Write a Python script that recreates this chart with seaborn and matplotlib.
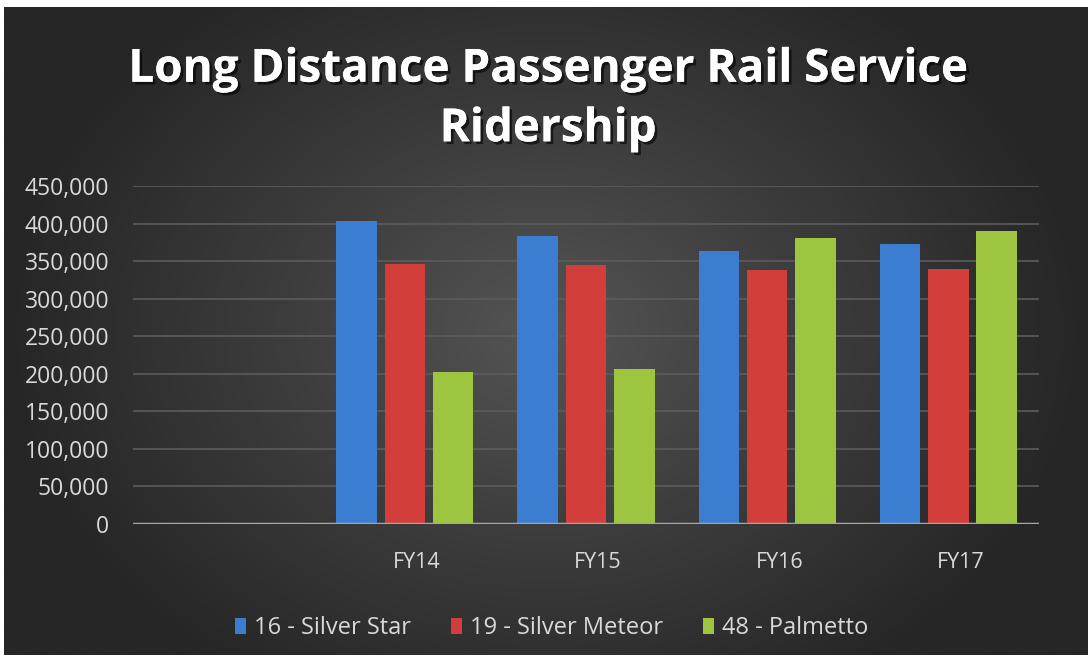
import numpy as np
import pandas as pd
import matplotlib.pyplot as plt
import matplotlib.ticker as mticker
import matplotlib.patheffects as pe
import matplotlib.transforms as mtrans
import seaborn as sb

# data
years = ["", "FY14", "FY15", "FY16", "FY17"]
silver_star = [np.nan, 403000, 383000, 363000, 373000]
silver_meteor = [np.nan, 346500, 345000, 338500, 340000]
palmetto = [np.nan, 202000, 207000, 381000, 390500]
routes = ["16 - Silver Star", "19 - Silver Meteor", "48 - Palmetto"]
colors = ["#3b7dd0", "#d23f3b", "#9dc53f"]

df = pd.DataFrame({"year": years * 3,
                   "route": np.repeat(routes, len(years)),
                   "riders": silver_star + silver_meteor + palmetto})

sb.set_style("dark")
plt.rcParams['font.family'] = ['Open Sans', 'DejaVu Sans']

fig = plt.figure(figsize=(10.9, 6.6), dpi=100)
fig.patch.set_facecolor("white")

# radial-ish dark background
bg = fig.add_axes([4 / 1090, 5 / 660, 1084 / 1090, 648 / 660])
yy, xx = np.mgrid[-1:1:300j, -1:1:500j]
r = np.sqrt((xx / 1.0) ** 2 + (yy / 1.3) ** 2)
bg.imshow(np.clip(r, 0, 1), cmap=plt.cm.colors.LinearSegmentedColormap.from_list(
    "bg", ["#545454", "#3c3c3c", "#262626"]), aspect="auto", extent=[0, 1, 0, 1])
bg.axis("off")

ax = fig.add_axes([133 / 1090, 136 / 660, 906 / 1090, 338 / 660])
ax.set_facecolor("none")
sb.barplot(data=df, x="year", y="riders", hue="route", palette=colors, saturation=1,
           width=0.8, gap=0.16, linewidth=0, ax=ax, zorder=3)

ax.set_ylim(0, 450000)
ax.yaxis.set_major_locator(mticker.MultipleLocator(50000))
ax.yaxis.set_major_formatter(mticker.FuncFormatter(lambda v, p: f"{int(v):,}"))
ax.grid(axis="y", color="#5c5c5c", linewidth=1.2, zorder=0)
ax.grid(axis="x", visible=False)
ax.axhline(0, color="#a6a6a6", linewidth=2.5, zorder=4)
for s in ax.spines.values():
    s.set_visible(False)
ax.tick_params(axis="y", colors="#d9d9d9", labelsize=16.5, length=0, pad=17)
ax.tick_params(axis="x", colors="#d9d9d9", labelsize=15.5, length=0, pad=20)
shift = mtrans.ScaledTranslation(12 / 100, 0, fig.dpi_scale_trans)
for lbl in ax.get_xticklabels():
    lbl.set_transform(lbl.get_transform() + shift)
ax.set_xlabel("")
ax.set_ylabel("")

leg = ax.legend(loc="upper center", bbox_to_anchor=(0.462, -0.21), ncol=3, frameon=False,
                fontsize=17, labelcolor="#d9d9d9", handlelength=0.45, handleheight=0.7,
                handletextpad=0.35, columnspacing=1.7)

fig.text(0.503, 0.85, "Long Distance Passenger Rail Service\nRidership", ha="center", va="center",
         color="white", fontsize=33, fontweight="bold", linespacing=1.35,
         path_effects=[pe.withSimplePatchShadow(offset=(2, -2), shadow_rgbFace="black", alpha=0.6),
                       pe.Normal()])

fig.savefig("out.png", dpi=100, facecolor=fig.get_facecolor())
